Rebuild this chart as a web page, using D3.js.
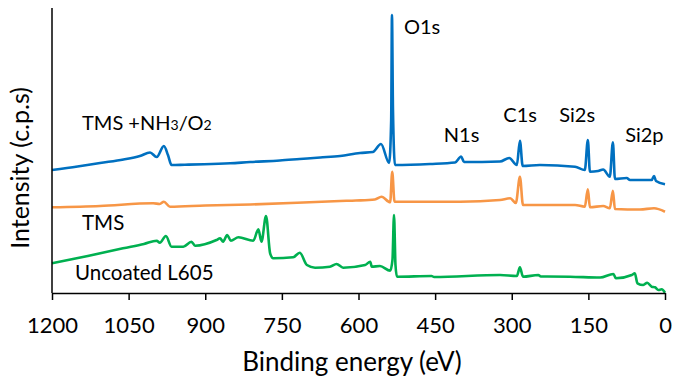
<!DOCTYPE html>
<html>
<head>
<meta charset="utf-8">
<script src="https://cdn.jsdelivr.net/npm/d3@7"></script>
<style>
  html, body { margin: 0; padding: 0; background: #fff; }
  svg { display: block; }
  text { font-family: Lato, "Open Sans", sans-serif; fill: #000; }
</style>
</head>
<body>
<svg id="chart" width="675" height="387"></svg>
<script>
// ---- Data (binding energy eV, intensity c.p.s arbitrary) ----
const xTicks = [1200, 1050, 900, 750, 600, 450, 300, 150, 0];
const seriesNames = ["TMS +NH3/O2", "TMS", "Uncoated L605"];

const tmsNH3O2 = [
  [1200,12300],[1150,12650],[1106,13000],[1060,13350],[1028,13700],[1008,14050],[995,13600],[981,14700],[973,13800],[966,12800],
  [940,12830],[902,12870],[851,12970],[812,13100],[754,13250],[715,13400],[675,13550],[636,13700],[597,14000],[572,14100],[556,14900],[540,13000],
  [536,17300],[534.5,27800],[532.5,18300],[528.6,12800],[460,12900],[411,13050],[399,13650],[393.5,13100],
  [323,13150],[305,13500],[290,12800],[284,15230],[278.6,12700],[245,12800],[176,12630],[157,12300],
  [151,15300],[147,12130],[131,12200],[121,12350],[108,11630],[102,15070],[98,11400],[75,11500],
  [68.5,11300],[26,11300],[21.5,11700],[17.6,11200],[0,10870]
];

const tms = [
  [1200,8570],[1106,8700],[1002,8970],[989,8900],[981,9130],[969,8630],[900,8750],[812,8850],[720,9020],[636,9200],
  [605,9250],[568,9350],[555,9630],[538,9070],[534,12130],[529.5,9130],[401,9130],[323,9300],
  [303,9470],[292,9000],[284,11630],[278,8800],[176,8800],[157,8630],[151,10370],[147,8570],
  [121,8700],[108,8470],[102,10230],[98,8400],[49,8350],[21.5,8470],[0,8130]
];

const uncoated = [
  [1200,2970],[1130,3700],[1061,4470],[1020,4900],[995,5230],[989,5030],[977,5700],[966,4630],[943,4630],[927,5130],
  [920,4730],[878,5300],[871,5470],[865,5130],[857,5800],[850,5230],[835,5570],[806,5230],
  [796,6370],[790,5130],[781,7700],[773,3970],[767,3470],[728,3570],[715,4030],[701,2800],
  [685,2530],[656,2630],[643,2900],[630,2530],[587,2800],[577,3130],[574,2630],[558,2700],
  [538,2230],[533.5,3300],[530.5,7800],[527.6,2800],[524.7,1630],[457,1700],[452,1600],[323,1800],
  [290,1700],[284,2570],[278,1630],[248,1800],[243,1650],[186,1630],[127,1550],[101,1900],
  [96,1470],[65,1800],[59,1970],[54,970],[42.5,800],[34.7,1030],[26,630],[19.6,570],
  [13,300],[6.5,370],[0,30]
];

const peakLabels = ["O1s", "N1s", "C1s", "Si2s", "Si2p"];
const peakLabelPos = [[511, 25900], [433, 15130], [316.5, 17130], [207, 17070], [78, 15130]];

// ---- Layout ----
const svg = d3.select("#chart");
const x = d3.scaleLinear().domain([1200, 0]).range([52, 665]);
const y = d3.scaleLinear().domain([0, 28500]).range([293, 8]);

const colors = ["#0070C0", "#F79646", "#00B050"];
const allSeries = [tmsNH3O2, tms, uncoated];

const line = d3.line().x(d => x(d[0])).y(d => y(d[1])).curve(d3.curveMonotoneX);

[2, 1, 0].forEach(i => {
  svg.append("path")
    .datum(allSeries[i])
    .attr("fill", "none")
    .attr("stroke", colors[i])
    .attr("stroke-width", 2.6)
    .attr("stroke-linejoin", "round")
    .attr("d", line);
});

// x axis
const xAxis = svg.append("g")
  .attr("transform", `translate(0,${y(0)})`)
  .call(d3.axisBottom(x).tickValues(xTicks).tickSize(7).tickPadding(17).tickSizeOuter(0).tickFormat(d3.format("d")));
xAxis.select(".domain").attr("stroke", "#000").attr("stroke-width", 1.5);
xAxis.selectAll(".tick line").attr("stroke", "#000").attr("stroke-width", 1.5);
xAxis.selectAll(".tick text").attr("font-size", 22).attr("font-family", "Lato, sans-serif").attr("fill", "#000");

// y axis (line only)
svg.append("line")
  .attr("x1", x(1200)).attr("x2", x(1200))
  .attr("y1", y(28500)).attr("y2", y(0))
  .attr("stroke", "#000").attr("stroke-width", 1.5);

// axis titles
svg.append("text")
  .attr("x", 352)
  .attr("y", 371)
  .attr("text-anchor", "middle")
  .attr("font-size", 26)
  .text("Binding energy (eV)");

svg.append("text")
  .attr("transform", `translate(29,${168}) rotate(-90)`)
  .attr("text-anchor", "middle")
  .attr("font-size", 25)
  .text("Intensity (c.p.s)");

// series labels
const lab1 = svg.append("text").attr("x", 82).attr("y", 130).attr("font-size", 20);
lab1.append("tspan").text("TMS +NH");
lab1.append("tspan").attr("font-size", 14).text("3");
lab1.append("tspan").text("/O");
lab1.append("tspan").attr("font-size", 14).text("2");

svg.append("text").attr("x", 82).attr("y", 230).attr("font-size", 20.5).text(seriesNames[1]);
svg.append("text").attr("x", 75).attr("y", 280).attr("font-size", 20.5).text(seriesNames[2]);

// peak labels
peakLabels.forEach((t, i) => {
  svg.append("text")
    .attr("x", x(peakLabelPos[i][0]))
    .attr("y", y(peakLabelPos[i][1]))
    .attr("font-size", 20)
    .text(t);
});
</script>
</body>
</html>
